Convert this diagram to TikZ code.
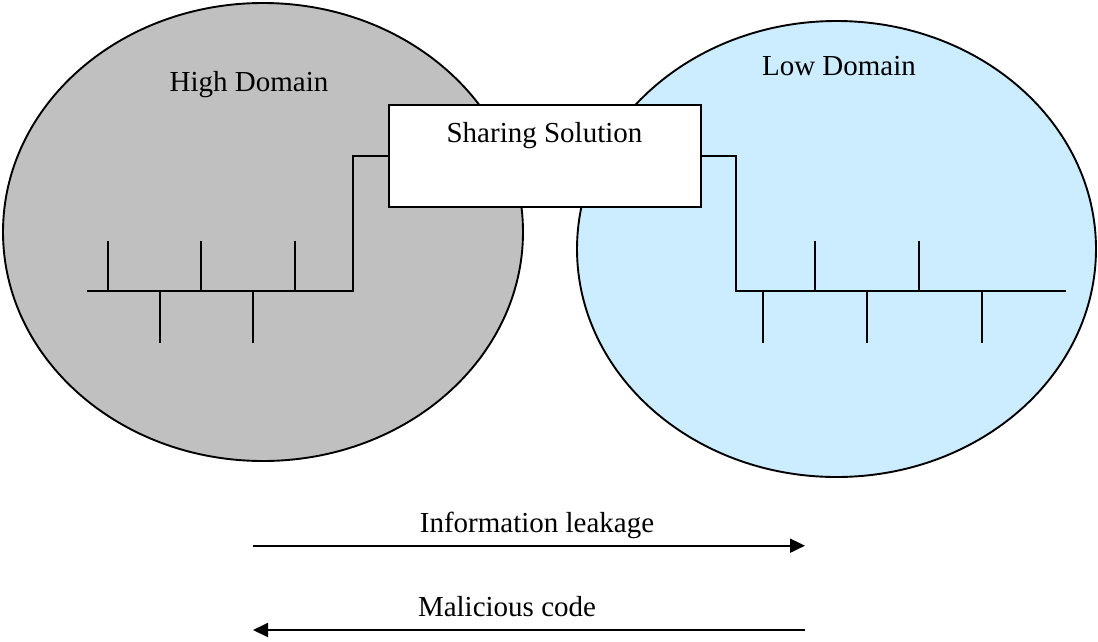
\documentclass[tikz,border=0pt]{standalone}
\usepackage{fontspec}
\setmainfont{Liberation Serif}
\usetikzlibrary{shapes.geometric,arrows.meta}
\definecolor{highgray}{RGB}{192,192,192}
\definecolor{lowblue}{RGB}{204,236,255}
\tikzset{
  domainshape/.style={ellipse, draw=black, line width=1.9pt, inner sep=0pt},
  sharebox/.style={rectangle, draw=black, fill=white, line width=1.9pt,
    minimum width=312pt, minimum height=102pt, inner sep=0pt},
  net/.style={line width=1.9pt},
  lbl/.style={font=\fontsize{29}{34}\selectfont, inner sep=0pt},
  flow/.style={line width=1.9pt, -{Triangle[length=15pt,width=14pt]}}
}
\begin{document}
\begin{tikzpicture}[x=1pt,y=-1pt]
\useasboundingbox (0,0) rectangle (1098,641);

% the two domains
\node[domainshape, fill=highgray, minimum width=520pt, minimum height=458pt] (high) at (263,232) {};
\node[domainshape, fill=lowblue, minimum width=519pt, minimum height=456pt] (low) at (836.5,249) {};
\node[lbl, anchor=base] (highlbl) at (249,91.7) {High Domain};
\node[lbl, anchor=base] (lowlbl) at (839,75) {Low Domain};

% the gateway between them
\node[sharebox] (share) at (545,156) {};
\node[lbl, anchor=base] (sharelbl) at (544.5,142.7) {Sharing Solution};

% high-side network bus
\coordinate (lbusL) at (86.7,291.3);
\coordinate (lbusR) at (352.7,291.3);
\draw[net] (share.west) -| (lbusR) -- (lbusL);
\foreach \x in {107.7,201.3,295} \draw[net] (\x,291.3) -- (\x,240.7);
\foreach \x in {159.7,253.3} \draw[net] (\x,291.3) -- (\x,343.3);

% low-side network bus
\coordinate (rbusL) at (735.7,291.3);
\coordinate (rbusR) at (1065.7,291.3);
\draw[net] (share.east) -| (rbusL) -- (rbusR);
\foreach \x in {815.3,919.3} \draw[net] (\x,291.3) -- (\x,240.7);
\foreach \x in {763.3,867.3,981.7} \draw[net] (\x,291.3) -- (\x,343.3);

% flow directions
\coordinate (leakA) at (253,545.7);
\coordinate (leakB) at (805,545.7);
\draw[flow] (leakA) -- (leakB);
\node[lbl, anchor=base] (leaklbl) at (537,532.3) {Information leakage};

\coordinate (codeA) at (805,630);
\coordinate (codeB) at (253,630);
\draw[flow] (codeA) -- (codeB);
\node[lbl, anchor=base] (codelbl) at (507,616.7) {Malicious code};
\end{tikzpicture}
\end{document}
